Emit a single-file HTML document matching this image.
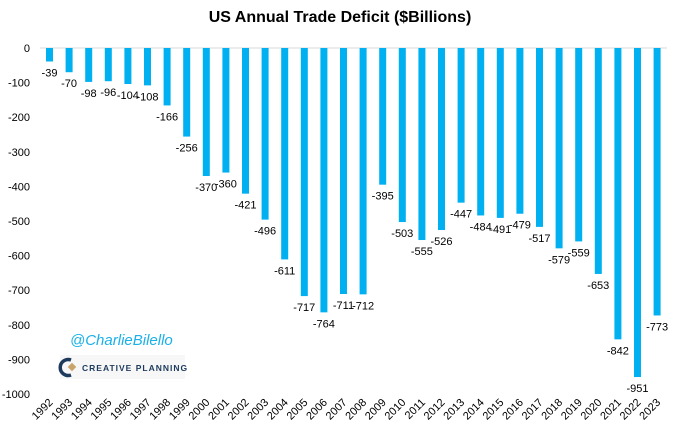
<!DOCTYPE html>
<html><head><meta charset="utf-8"><style>
body{margin:0;background:#fff;width:680px;height:430px;overflow:hidden;font-family:"Liberation Sans",sans-serif}
</style></head><body>
<svg id="c" width="680" height="430" style="font-family:'Liberation Sans',sans-serif">
<text x="340" y="22" text-anchor="middle" font-size="16" font-weight="bold" fill="#000">US Annual Trade Deficit ($Billions)</text>
<g id="yaxis"></g><g id="bars"></g>
<text x="70" y="345" font-size="15" font-style="italic" fill="#1ab0e8">@CharlieBilello</text>
<g>
<rect x="60" y="355" width="125" height="24" fill="#f7f7f7"/>
<path d="M71 360 a8 8 0 1 0 0 15" stroke="#1d3a5c" stroke-width="3.5" fill="none"/>
<rect x="69" y="364" width="6" height="6" fill="#c8a46a" transform="rotate(45 72 367)"/>
<text x="82" y="371" font-size="8.5" font-weight="bold" fill="#1d3a5c" letter-spacing="1">CREATIVE PLANNING</text>
</g>
</svg>
<script>
const years=[1992,1993,1994,1995,1996,1997,1998,1999,2000,2001,2002,2003,2004,2005,2006,2007,2008,2009,2010,2011,2012,2013,2014,2015,2016,2017,2018,2019,2020,2021,2022,2023];
const values=[-39,-70,-98,-96,-104,-108,-166,-256,-370,-360,-421,-496,-611,-717,-764,-711,-712,-395,-503,-555,-526,-447,-484,-491,-479,-517,-579,-559,-653,-842,-951,-773];
const yTicks=[0,-100,-200,-300,-400,-500,-600,-700,-800,-900,-1000];
const NS="http://www.w3.org/2000/svg";
const y0=48,yScale=v=>y0-v*0.346;
const xScale=i=>49.5+i*19.6;
const ya=document.getElementById('yaxis'),bg=document.getElementById('bars');
function mk(t,a,p){const e=document.createElementNS(NS,t);for(const k in a)e.setAttribute(k,a[k]);p.appendChild(e);return e;}
yTicks.forEach(t=>{const e=mk('text',{x:30,y:yScale(t)+4,'text-anchor':'end','font-size':11,fill:'#000'},ya);e.textContent=t;

});
const ax=mk('line',{x1:40,x2:667,y1:y0,y2:y0,stroke:'#d9d9d9','stroke-width':1},ya);


values.forEach((v,i)=>{const cx=xScale(i);
const r=mk('rect',{x:cx-3.5,y:y0,width:7,height:yScale(v)-y0,fill:'#00b0f0'},bg);


const l=mk('text',{x:cx,y:yScale(v)+15,'text-anchor':'middle','font-size':11,fill:'#000'},bg);l.textContent=v;


const yl=mk('text',{x:cx+4,y:403,'text-anchor':'end','font-size':11,fill:'#000',transform:`rotate(-45 ${cx+4} 403)`},bg);yl.textContent=years[i];

});
</script>
</body></html>
